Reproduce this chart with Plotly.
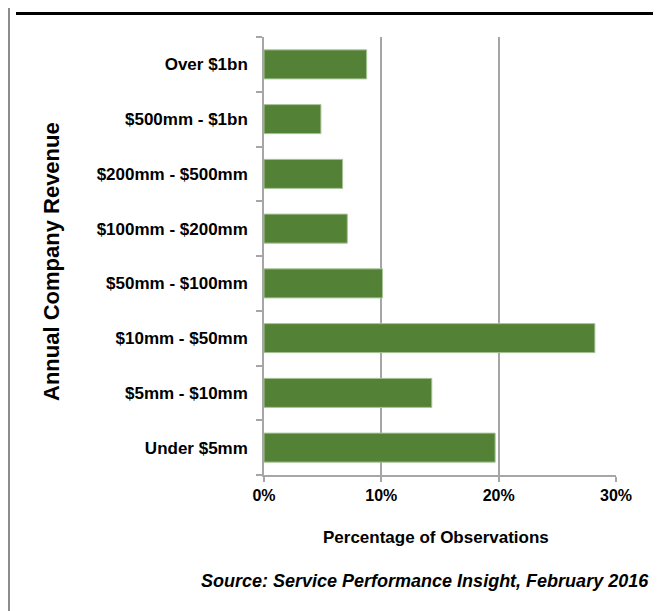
import plotly.graph_objects as go

categories = ["Under $5mm", "$5mm - $10mm", "$10mm - $50mm", "$50mm - $100mm",
              "$100mm - $200mm", "$200mm - $500mm", "$500mm - $1bn", "Over $1bn"]
values = [19.7, 14.3, 28.2, 10.1, 7.1, 6.7, 4.85, 8.75]
x_ticks = [0, 10, 20, 30]
x_tick_labels = ["0%", "10%", "20%", "30%"]

FONT = "Liberation Sans, Arial, sans-serif"

OFF = 8  # page body margin
W, H = 661 - OFF, 611 - OFF
L, R, T, B = 264 - OFF, 45, 37 - OFF, 136
pw = W - L - R
ph = H - T - B

def px_x(px):
    return (px - OFF - L) / pw

def px_y(py):
    return (H - B - (py - OFF)) / ph

fig = go.Figure(go.Bar(
    y=categories, x=values, orientation="h",
    marker=dict(color="#538135", line=dict(color="#a9c59a", width=1)),
    width=0.53,
))

fig.update_layout(
    width=W, height=H,
    margin=dict(l=L, r=R, t=T, b=B),
    paper_bgcolor="white", plot_bgcolor="white",
    showlegend=False,
    font=dict(family=FONT, color="black"),
    xaxis=dict(
        range=[0, 30], tickvals=x_ticks, ticktext=x_tick_labels,
        showgrid=True, gridcolor="#a6a6a6", gridwidth=1.5,
        showline=True, linecolor="#a6a6a6", linewidth=1.5,
        ticks="outside", ticklen=5, tickcolor="#a6a6a6", tickwidth=1.5,
        tickfont=dict(size=16, family=FONT, color="black", weight="bold"),
        zeroline=False, fixedrange=True,
    ),
    yaxis=dict(
        categoryorder="array", categoryarray=categories,
        showgrid=False,
        showline=True, linecolor="#a6a6a6", linewidth=1.5,
        ticks="outside", ticklen=6, tickcolor="#a6a6a6", tickwidth=1.5,
        tickson="boundaries",
        ticklabelstandoff=11,
        tickfont=dict(size=17, family=FONT, color="black", weight="bold"),
        fixedrange=True,
    ),
    bargap=0.47,
)

fig.add_annotation(
    text="Annual Company Revenue", textangle=-90,
    xref="paper", yref="paper", x=px_x(51), y=px_y(262),
    xanchor="center", yanchor="middle", showarrow=False,
    font=dict(size=22, family=FONT, color="black", weight="bold"),
)
fig.add_annotation(
    text="Percentage of Observations",
    xref="paper", yref="paper", x=px_x(436), y=px_y(537),
    xanchor="center", yanchor="middle", showarrow=False,
    font=dict(size=17, family=FONT, color="black", weight="bold"),
)
fig.add_annotation(
    text="<i>Source: Service Performance Insight, February 2016</i>",
    xref="paper", yref="paper", x=px_x(651), y=px_y(581),
    xanchor="right", yanchor="middle", showarrow=False,
    font=dict(size=18, family=FONT, color="black", weight="bold"),
)

fig.add_shape(type="line", xref="paper", yref="paper",
              x0=px_x(9), x1=px_x(9), y0=px_y(OFF), y1=px_y(611),
              line=dict(color="#8c8c8c", width=2))
fig.add_shape(type="line", xref="paper", yref="paper",
              x0=px_x(16), x1=px_x(661), y0=px_y(13.5), y1=px_y(13.5),
              line=dict(color="black", width=3))

fig.write_html("out.html")
